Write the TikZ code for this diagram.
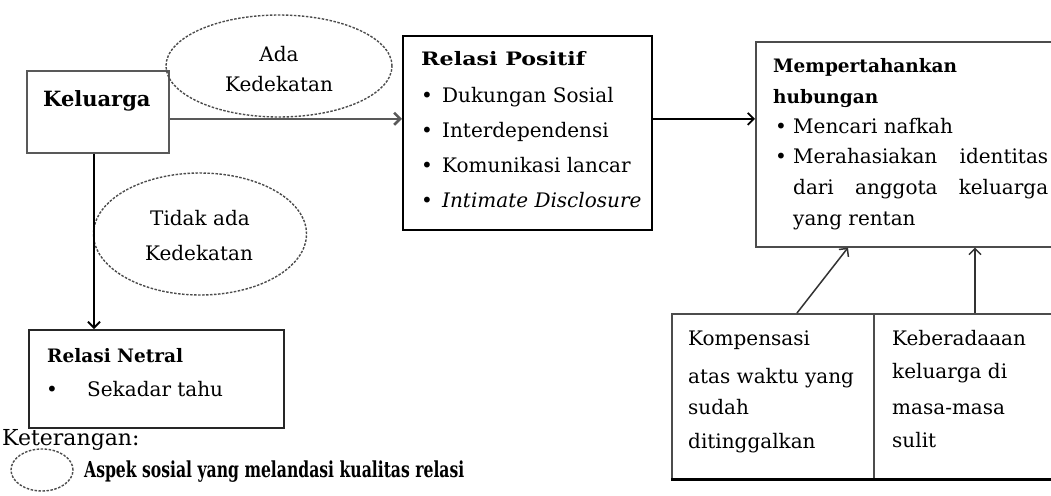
\documentclass[tikz,border=0pt]{standalone}
\usepackage{fontspec}
\setmainfont{DejaVu Serif}
\usetikzlibrary{arrows.meta,shapes.geometric,calc}
\begin{document}
\begin{tikzpicture}[x=1pt,y=-1pt,
  box/.style={draw=black!70, line width=1.6pt, inner sep=0pt, anchor=north west},
  txt/.style={anchor=base west, inner sep=0pt, font=\fontsize{20}{24}\selectfont},
  ttl/.style={anchor=base west, inner sep=0pt, font=\fontsize{18.5}{22}\selectfont\bfseries},
  ell/.style={draw=black!70, dash pattern=on 2.5pt off 1.5pt, line width=1.4pt, ellipse, inner sep=0pt},
  arr/.style={-{Straight Barb[length=6pt,width=12pt]}, line width=1.8pt}]
\useasboundingbox (0,0) rectangle (1051,495);
\fill[white] (0,0) rectangle (1051,495);
\clip (0,0) rectangle (1051,495);

% Keluarga
\node[box, draw=black!65, minimum width=142, minimum height=82] (kel) at (26,70) {};
\node[anchor=base west, inner sep=0pt, font=\fontsize{21}{24}\selectfont\bfseries] (kelt) at (43,106) {Keluarga};

% ellipses
\node[ell, minimum width=226, minimum height=102] (e1) at (279,66) {};
\node[txt, anchor=base] (e1a) at (279,62) {Ada};
\node[txt, anchor=base] (e1b) at (279,91) {Kedekatan};
\node[ell, minimum width=213, minimum height=122] (e2) at (200,234) {};
\node[txt, anchor=base] (e2a) at (200,225) {Tidak ada};
\node[txt, anchor=base] (e2b) at (199,260) {Kedekatan};

% Relasi Positif
\node[box, draw=black, line width=1.8pt, minimum width=249, minimum height=194] (pos) at (402,35) {};
\node[ttl, xscale=1.2, transform shape] (post) at (421,65) {Relasi Positif};
\node[txt] (pb1) at (421,102) {•};
\node[txt] (pt1) at (442,102) {Dukungan Sosial};
\node[txt] (pb2) at (421,137) {•};
\node[txt] (pt2) at (442,137) {Interdependensi};
\node[txt] (pb3) at (421,172) {•};
\node[txt] (pt3) at (442,172) {Komunikasi lancar};
\node[txt] (pb4) at (421,207) {•};
\node[txt] (pt4) at (442,207) {\itshape Intimate Disclosure};

% Mempertahankan hubungan
\node[box, minimum width=320, minimum height=205] (mem) at (755,41) {};
\node[ttl] (memt1) at (773,73) {Mempertahankan};
\node[ttl] (memt2) at (773,103) {hubungan};
\node[txt] (mb1) at (775,133) {•};
\node[txt] (mt1) at (793,133) {Mencari nafkah};
\node[txt] (mb2) at (775,163) {•};
\node[txt] (mt2) at (793,163) {\makebox[255pt][s]{Merahasiakan identitas}};
\node[txt] (mt3) at (793,194) {\makebox[255pt][s]{dari anggota keluarga}};
\node[txt] (mt4) at (793,225) {yang rentan};

% Relasi Netral
\node[box, draw=black!85, minimum width=255, minimum height=98] (net) at (28,329) {};
\node[ttl] (nett) at (47,362) {Relasi Netral};
\node[txt] (nb1) at (46,396) {•};
\node[txt] (nt1) at (87,396) {Sekadar tahu};

% bottom boxes
\node[box, minimum width=202, minimum height=165] (komp) at (671,313) {};
\node[box, minimum width=200, minimum height=165] (keb) at (873,313) {};
\draw[black, line width=2.6pt] (komp.south west) -- (keb.south east);
\node[txt] (k1) at (688,345) {Kompensasi};
\node[txt] (k2) at (688,383) {atas waktu yang};
\node[txt] (k3) at (688,414) {sudah};
\node[txt] (k4) at (688,448) {ditinggalkan};
\node[txt] (b1) at (892,345) {Keberadaaan};
\node[txt] (b2) at (892,378) {keluarga di};
\node[txt] (b3) at (892,414) {masa-masa};
\node[txt] (b4) at (892,447) {sulit};

% legend
\node[txt, font=\fontsize{22}{24}\selectfont] (ket) at (2,445) {Keterangan:};
\node[ell, minimum width=62, minimum height=42] (le) at (42,470) {};
\node[anchor=base west, inner sep=0pt, xscale=0.71, transform shape, font=\fontsize{22}{24}\selectfont\bfseries] (let) at (84,477) {Aspek sosial yang melandasi kualitas relasi};

% connectors
\coordinate (a1) at ($(kel.east)+(0,7)$);
\draw[arr, draw=black!65, line width=2.6pt] (a1) -- (a1 -| pos.west);
\coordinate (a2) at ($(kel.south west)+(68,0)$);
\draw[arr] (a2) -- (a2 |- net.north);
\coordinate (a3) at ($(pos.east)+(0,-14)$);
\draw[arr] (a3) -- (a3 -| mem.west);
\coordinate (a4) at ($(komp.north west)+(126,0)$);
\draw[arr, line width=1.5pt, draw=black!80] (a4) -- ($(mem.south west)+(93,0)$);
\coordinate (a5) at ($(keb.north west)+(102,0)$);
\draw[arr, line width=1.5pt, draw=black!80] (a5) -- (a5 |- mem.south);
\end{tikzpicture}
\end{document}
